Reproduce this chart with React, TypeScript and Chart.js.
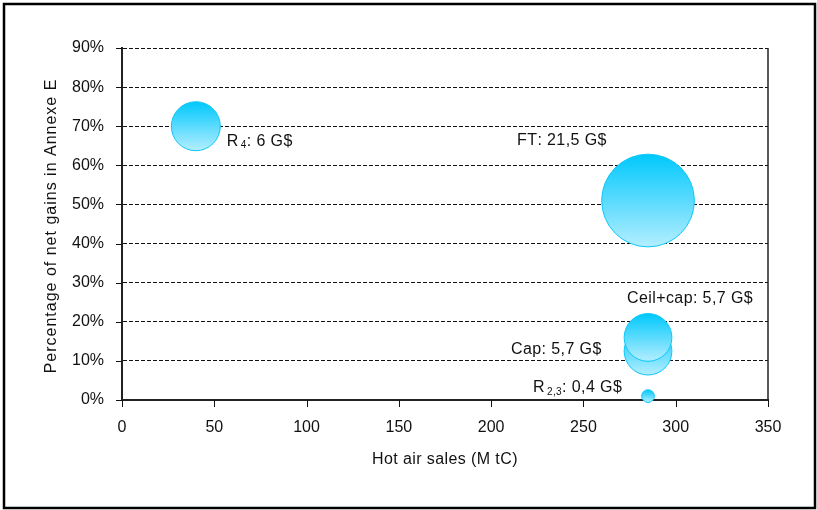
import { useEffect, useRef } from 'react';
import { Chart, registerables } from 'chart.js';

Chart.register(...registerables);

// Scenario results: hot air sold (M tC) vs share of net gains going to Annex E
const seriesNames = ['R4', 'FT', 'Cap', 'Ceil+cap', 'R2,3'];
const hotAirSales = [40, 285, 285, 285, 285];
const netGainsPct = [70, 51, 12.5, 16, 1];
const netGainsGUSD = [6, 21.5, 5.7, 5.7, 0.4];

// Label pieces: name, optional subscript, then the value text
const labelName = ['R', 'FT', 'Cap', 'Ceil+cap', 'R'];
const labelSub = ['4', '', '', '', '2,3'];

const xTickValues = [0, 50, 100, 150, 200, 250, 300, 350];
const yTickValues = [0, 10, 20, 30, 40, 50, 60, 70, 80, 90];

const xTitle = 'Hot air sales (M tC)';
const yTitle = 'Percentage of net gains in Annexe E';

const FONT = '"Liberation Sans", Arial, Helvetica, sans-serif';
const BUBBLE_SCALE = 10; // px of radius per sqrt(G$)

// label offsets from the bubble centre, in px
const labelOffsets: [number, number][] = [
  [31, 15.5],
  [-131, -60],
  [-137, -1.8],
  [-21, -39],
  [-115, -8],
];

const fmt = (v: number) => String(v).replace('.', ',');

const bubbleFill = (ctx: any) => {
  const chart = ctx.chart;
  const raw = ctx.raw;
  const ys = chart && chart.scales ? chart.scales.y : null;
  if (!raw || !ys) return '#29CFFF';
  const cy = ys.getPixelForValue(raw.y);
  const r = raw.r;
  if (!Number.isFinite(cy) || !Number.isFinite(r)) return '#29CFFF';
  const g = chart.ctx.createLinearGradient(0, cy - r, 0, cy + r);
  g.addColorStop(0, '#00C8FC');
  g.addColorStop(1, '#B4EEFF');
  return g;
};

const decorations = {
  id: 'decorations',
  beforeDraw(chart: any) {
    const { ctx, width, height } = chart;
    ctx.save();
    ctx.fillStyle = '#fff';
    ctx.fillRect(0, 0, width, height);
    ctx.restore();
  },
  beforeDatasetsDraw(chart: any) {
    const { ctx, chartArea } = chart;
    const xs = chart.scales.x;
    const ys = chart.scales.y;
    ctx.save();
    ctx.strokeStyle = '#111';
    ctx.lineWidth = 1;
    ctx.beginPath();
    yTickValues.forEach((v) => {
      const py = Math.round(ys.getPixelForValue(v)) + 0.5;
      ctx.moveTo(chartArea.left - 6, py);
      ctx.lineTo(chartArea.left, py);
    });
    xTickValues.forEach((v) => {
      const px = Math.round(xs.getPixelForValue(v)) + 0.5;
      ctx.moveTo(px, chartArea.bottom);
      ctx.lineTo(px, chartArea.bottom + 7);
    });
    ctx.stroke();
    // right edge of the plot area
    ctx.lineWidth = 1.5;
    ctx.strokeStyle = '#222';
    ctx.beginPath();
    ctx.moveTo(chartArea.right, chartArea.top);
    ctx.lineTo(chartArea.right, chartArea.bottom);
    ctx.stroke();
    ctx.restore();
  },
  afterDatasetsDraw(chart: any) {
    const { ctx } = chart;
    const xs = chart.scales.x;
    const ys = chart.scales.y;
    ctx.save();
    ctx.fillStyle = '#111';
    ctx.textBaseline = 'middle';
    ctx.textAlign = 'left';
    ctx.letterSpacing = '0.4px';
    seriesNames.forEach((_, i) => {
      let px = xs.getPixelForValue(hotAirSales[i]) + labelOffsets[i][0];
      const py = ys.getPixelForValue(netGainsPct[i]) + labelOffsets[i][1];
      ctx.font = `16px ${FONT}`;
      ctx.fillText(labelName[i], px, py);
      px += ctx.measureText(labelName[i]).width;
      if (labelSub[i]) {
        px += 2;
        ctx.font = `10px ${FONT}`;
        ctx.fillText(labelSub[i], px, py + 4);
        px += ctx.measureText(labelSub[i]).width;
      }
      ctx.font = `16px ${FONT}`;
      ctx.fillText(`: ${fmt(netGainsGUSD[i])} G$`, px, py);
    });
    ctx.restore();
  },
  afterDraw(chart: any) {
    const { ctx, chartArea } = chart;
    ctx.save();
    // axis titles
    ctx.fillStyle = '#111';
    ctx.font = `16px ${FONT}`;
    ctx.textAlign = 'center';
    ctx.textBaseline = 'alphabetic';
    ctx.letterSpacing = '0.4px';
    ctx.fillText(xTitle, (chartArea.left + chartArea.right) / 2, 464);
    ctx.translate(56, (chartArea.top + chartArea.bottom) / 2 + 2);
    ctx.rotate(-Math.PI / 2);
    ctx.letterSpacing = '1px';
    ctx.fillText(yTitle, 0, 0);
    ctx.restore();
    // outer frame
    ctx.save();
    ctx.strokeStyle = '#000';
    ctx.lineWidth = 2.5;
    ctx.strokeRect(4, 4, 811, 504);
    ctx.restore();
  },
};

export default function App() {
  const ref = useRef<HTMLCanvasElement>(null);

  useEffect(() => {
    document.body.style.margin = '0';
    const chart = new Chart(ref.current!, {
      type: 'bubble',
      data: {
        datasets: [
          {
            label: 'Net gains (G$)',
            data: seriesNames.map((_, i) => ({
              x: hotAirSales[i],
              y: netGainsPct[i],
              r: BUBBLE_SCALE * Math.sqrt(netGainsGUSD[i]),
            })),
            backgroundColor: bubbleFill,
            borderColor: '#10C8F8',
            borderWidth: 1,
            clip: false as any,
          },
        ],
      },
      options: {
        responsive: false,
        animation: false,
        devicePixelRatio: 1,
        events: [],
        layout: { padding: { top: 48, right: 49, left: 0, bottom: 0 } },
        plugins: {
          legend: { display: false },
          tooltip: { enabled: false },
        },
        scales: {
          x: {
            type: 'linear',
            min: 0,
            max: 350,
            ticks: {
              stepSize: 50,
              padding: 18,
              color: '#111',
              font: { family: FONT, size: 16 },
              maxRotation: 0,
            },
            grid: { display: false, drawTicks: false },
            border: { display: true, color: '#222', width: 2 },
            afterFit: (s: any) => {
              s.height = 110;
            },
          },
          y: {
            type: 'linear',
            min: 0,
            max: 90,
            ticks: {
              stepSize: 10,
              padding: 18,
              color: '#111',
              font: { family: FONT, size: 16 },
              callback: (v: any) => `${v}%`,
            },
            grid: { display: true, drawTicks: false, color: '#111', lineWidth: 1 },
            border: { display: true, color: '#222', width: 2, dash: [4, 2] },
            afterFit: (s: any) => {
              s.width = 122;
            },
          },
        },
      },
      plugins: [decorations],
    });
    return () => chart.destroy();
  }, []);

  return (
    <div style={{ width: 817, height: 510 }}>
      <canvas ref={ref} width={817} height={510} style={{ display: 'block' }} />
    </div>
  );
}
